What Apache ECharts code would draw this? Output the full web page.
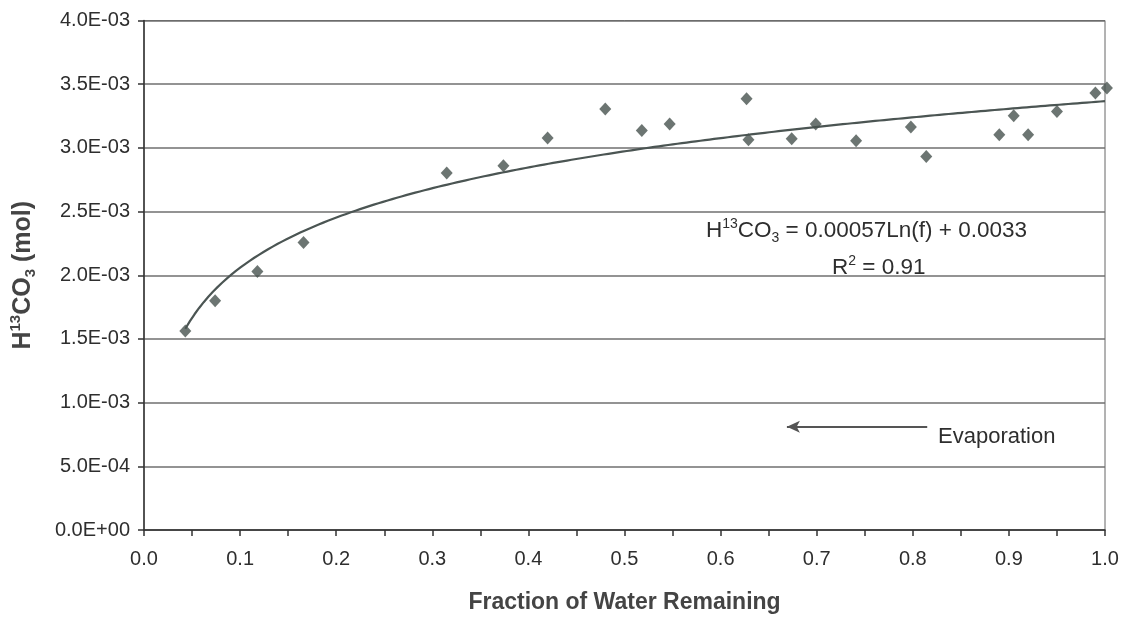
<!DOCTYPE html>
<html>
<head>
<meta charset="utf-8">
<script src="https://cdn.jsdelivr.net/npm/echarts@6/dist/echarts.min.js"></script>
<style>
html,body{margin:0;padding:0;background:#fff;}
#chart{width:1131px;height:619px;}
</style>
</head>
<body>
<div id="chart"></div>
<script>
// Fraction of water remaining (f)
const fractionRemaining = [0.043, 0.074, 0.118, 0.166, 0.315, 0.374, 0.420, 0.480, 0.518, 0.547, 0.627, 0.629,
  0.674, 0.699, 0.741, 0.798, 0.814, 0.890, 0.905, 0.920, 0.950, 0.990, 1.002];
// H13CO3 (mol)
const h13co3 = [1.563e-3, 1.800e-3, 2.029e-3, 2.257e-3, 2.802e-3, 2.859e-3, 3.077e-3, 3.305e-3, 3.137e-3, 3.187e-3, 3.386e-3, 3.064e-3,
  3.071e-3, 3.187e-3, 3.055e-3, 3.163e-3, 2.932e-3, 3.103e-3, 3.252e-3, 3.103e-3, 3.285e-3, 3.430e-3, 3.470e-3];
const xTicks = [0, 0.1, 0.2, 0.3, 0.4, 0.5, 0.6, 0.7, 0.8, 0.9, 1.0];
const yTicks = [0, 5e-4, 1e-3, 1.5e-3, 2e-3, 2.5e-3, 3e-3, 3.5e-3, 4e-3];

// Logarithmic least-squares trendline (as in the spreadsheet) computed from the data
function logFit(xs, ys) {
  const n = xs.length;
  const L = xs.map(Math.log);
  const mL = L.reduce((a, b) => a + b, 0) / n;
  const mY = ys.reduce((a, b) => a + b, 0) / n;
  let sxy = 0, sxx = 0;
  for (let i = 0; i < n; i++) { sxy += (L[i] - mL) * (ys[i] - mY); sxx += (L[i] - mL) * (L[i] - mL); }
  const a = sxy / sxx;
  return { a: a, b: mY - a * mL };
}
const fit = logFit(fractionRemaining, h13co3);
const xMinFit = Math.min.apply(null, fractionRemaining);
const trend = [];
for (let i = 0; i <= 200; i++) {
  const x = xMinFit + (1.0 - xMinFit) * i / 200;
  trend.push([x, fit.a * Math.log(x) + fit.b]);
}

function sci(v) {
  if (v === 0) return '0.0E+00';
  const s = v.toExponential(1);
  const parts = s.split('e');
  const e = parseInt(parts[1], 10);
  const sign = e < 0 ? '-' : '+';
  const ab = Math.abs(e);
  return parts[0] + 'E' + sign + (ab < 10 ? '0' + ab : ab);
}

const chart = echarts.init(document.getElementById('chart'));
const txt = '#2e2e2e';
const fam = '"Liberation Sans", Arial, sans-serif';

chart.setOption({
  animation: false,
  backgroundColor: '#fff',
  grid: { left: 143.5, right: 26, top: 20.5, bottom: 89, show: true, borderColor: '#666', borderWidth: 1, backgroundColor: 'transparent' },
  xAxis: {
    type: 'value', min: xTicks[0], max: xTicks[xTicks.length - 1], interval: 0.1,
    axisLine: { show: true, lineStyle: { color: '#333', width: 1.5 } },
    axisTick: { show: true, length: 6, lineStyle: { color: '#333', width: 1.5 } },
    minorTick: { show: true, splitNumber: 2, length: 6, lineStyle: { color: '#333', width: 1.5 } },
    splitLine: { show: false },
    axisLabel: { color: txt, fontSize: 20, fontFamily: fam, margin: 19, formatter: v => v.toFixed(1) },
    name: 'Fraction of Water Remaining', nameLocation: 'middle', nameGap: 61,
    nameTextStyle: { color: '#444', fontSize: 23, fontWeight: 'bold', fontFamily: fam }
  },
  yAxis: {
    type: 'value', min: yTicks[0], max: yTicks[yTicks.length - 1], interval: 5e-4,
    axisLine: { show: true, lineStyle: { color: '#333', width: 1.5 } },
    axisTick: { show: true, length: 6, lineStyle: { color: '#333', width: 1.5 } },
    splitLine: { show: true, lineStyle: { color: '#6f6f6f', width: 1.5 } },
    axisLabel: { color: txt, fontSize: 20, fontFamily: fam, margin: 14, formatter: sci },
    name: '{b|H}{sup|13}{b|CO}{sub|3}{b| (mol)}', nameLocation: 'middle', nameGap: 106,
    nameTextStyle: {
      color: '#444', fontFamily: fam,
      rich: {
        b: { fontSize: 25, fontWeight: 'bold', color: '#444', fontFamily: fam, lineHeight: 30 },
        sup: { fontSize: 15, fontWeight: 'bold', color: '#444', fontFamily: fam, verticalAlign: 'top' },
        sub: { fontSize: 15, fontWeight: 'bold', color: '#444', fontFamily: fam, verticalAlign: 'bottom' }
      }
    }
  },
  series: [
    {
      type: 'line', data: trend, showSymbol: false, symbol: 'none', smooth: false,
      lineStyle: { color: '#4b5553', width: 2.2 }, z: 2,
      markLine: {
        silent: true, symbol: ['none', 'arrow'], symbolSize: [9, 13],
        label: { show: false },
        lineStyle: { color: '#555', width: 2, type: 'solid' },
        data: [[{ coord: [0.815, 0.81e-3] }, { coord: [0.669, 0.81e-3] }]]
      }
    },
    {
      type: 'scatter', data: fractionRemaining.map((x, i) => [x, h13co3[i]]), clip: false,
      symbol: 'diamond', symbolSize: [12, 13], itemStyle: { color: '#47524f' }, z: 3
    }
  ],
  graphic: [
    {
      type: 'text', left: 706, top: 217, z: 10,
      style: {
        text: '{n|H}{sup|13}{n|CO}{sub|3}{n| = 0.00057Ln(f) + 0.0033}',
        fill: txt, font: '22px ' + fam,
        rich: {
          n: { fontSize: 22.5, fontFamily: fam, fill: txt, lineHeight: 28 },
          sup: { fontSize: 14, fontFamily: fam, fill: txt, verticalAlign: 'top' },
          sub: { fontSize: 14, fontFamily: fam, fill: txt, verticalAlign: 'bottom' }
        }
      }
    },
    {
      type: 'text', left: 832, top: 254, z: 10,
      style: {
        text: '{n|R}{sup|2}{n| = 0.91}',
        fill: txt, font: '22px ' + fam,
        rich: {
          n: { fontSize: 22.5, fontFamily: fam, fill: txt, lineHeight: 28 },
          sup: { fontSize: 14, fontFamily: fam, fill: txt, verticalAlign: 'top' }
        }
      }
    },
    {
      type: 'text', left: 938, top: 426, z: 10,
      style: { text: 'Evaporation', fill: txt, font: '22px ' + fam }
    }
  ]
});
</script>
</body>
</html>
